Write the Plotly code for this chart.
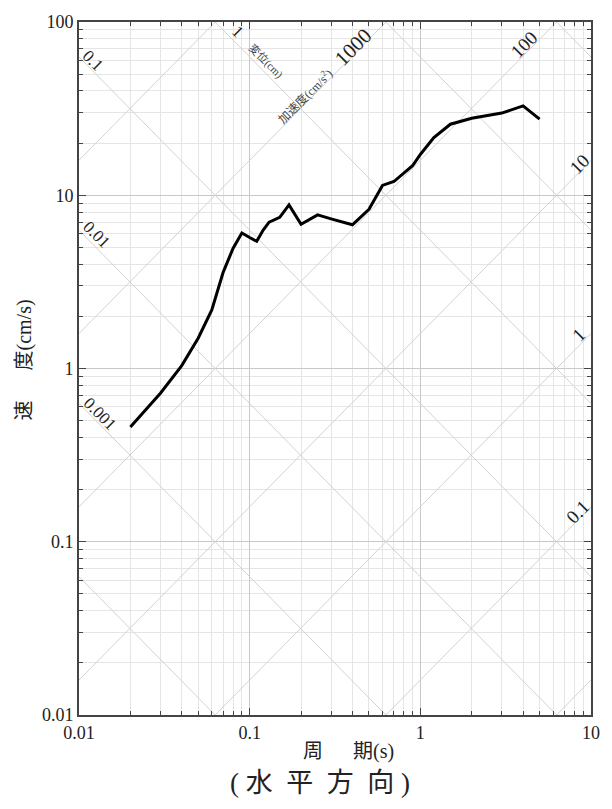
import numpy as np
import plotly.graph_objects as go

# ---- data ----
period = [0.02, 0.03, 0.04, 0.05, 0.06, 0.07, 0.08, 0.09, 0.10, 0.11, 0.12, 0.13,
          0.15, 0.17, 0.20, 0.25, 0.30, 0.40, 0.50, 0.60, 0.70, 0.80, 0.90, 1.0,
          1.2, 1.5, 2.0, 3.0, 4.0, 5.0]
velocity = [0.46, 0.72, 1.04, 1.50, 2.18, 3.60, 4.95, 6.05, 5.70, 5.42, 6.30, 7.00,
            7.45, 8.80, 6.80, 7.70, 7.30, 6.75, 8.30, 11.4, 12.0, 13.4, 14.8, 17.2,
            21.5, 25.7, 27.8, 29.8, 32.8, 27.5]

x_ticks = [0.01, 0.1, 1, 10]
x_ticktext = ["0.01", "0.1", "1", "10"]
y_ticks = [0.01, 0.1, 1, 10, 100]
y_ticktext = ["0.01", "0.1", "1", "10", "100"]

disp_levels = [1e-5, 1e-4, 1e-3, 1e-2, 1e-1, 1, 10, 100, 1000]      # cm
acc_levels = [1e-2, 1e-1, 1, 10, 100, 1000, 1e4, 1e5, 1e6]         # cm/s^2

# ---- layout geometry ----
W, H = 612, 809
L, R, T, B = 79, 12, 19, 94
PW, PH = W - L - R, H - T - B

def px(x):
    return (x - L) / PW

def py(y):
    return (H - B - y) / PH

serif = "Liberation Serif"
cjk = "Liberation Serif, Noto Sans CJK JP"
grid_minor = "#e5e5e5"
grid_major = "#c8c8c8"
diag_col = "#d2d2d2"

fig = go.Figure()

t_edges = np.array([0.01, 10.0])
for d in disp_levels:
    fig.add_trace(go.Scatter(x=t_edges, y=2 * np.pi * d / t_edges, mode="lines",
                             line=dict(color=diag_col, width=1), hoverinfo="skip",
                             showlegend=False))
for a in acc_levels:
    fig.add_trace(go.Scatter(x=t_edges, y=a * t_edges / (2 * np.pi), mode="lines",
                             line=dict(color=diag_col, width=1), hoverinfo="skip",
                             showlegend=False))

fig.add_trace(go.Scatter(x=period, y=velocity, mode="lines",
                         line=dict(color="black", width=3), showlegend=False))

def minor_vals(lo, hi):
    out = []
    for e in range(lo, hi):
        for m in range(2, 10):
            out.append(m * 10.0 ** e)
    return out

axis_common = dict(
    type="log", showline=True, linecolor="#444", linewidth=2, mirror="ticks",
    ticks="inside", ticklen=7, tickcolor="#444", tickwidth=1.2,
    showgrid=True, gridcolor=grid_major, gridwidth=1, zeroline=False,
    tickfont=dict(family=serif, size=18, color="#222"),
)

fig.update_xaxes(range=[-2, 1], tickmode="array", tickvals=x_ticks, ticktext=x_ticktext,
                 minor=dict(tickmode="array", tickvals=minor_vals(-2, 1), ticks="inside",
                            ticklen=4, tickcolor="#444", showgrid=True,
                            gridcolor=grid_minor, gridwidth=1),
                 **axis_common)
fig.update_yaxes(range=[-2, 2], tickmode="array", tickvals=y_ticks, ticktext=y_ticktext,
                 minor=dict(tickmode="array", tickvals=minor_vals(-2, 2), ticks="inside",
                            ticklen=4, tickcolor="#444", showgrid=True,
                            gridcolor=grid_minor, gridwidth=1),
                 **axis_common)

ann = []
def add(text, x, y, size, angle=0, color="#222", family=serif):
    ann.append(dict(text=text, x=px(x), y=py(y), xref="paper", yref="paper",
                    showarrow=False, textangle=angle, xanchor="center", yanchor="middle",
                    font=dict(family=family, size=size, color=color)))

# displacement labels (lines falling to the right)
add("0.1", 93, 58, 17, 45)
add("0.01", 97, 232, 17, 45)
add("0.001", 100, 412, 17, 45)
add("1", 240, 29, 17, 45)
add("変位(cm)", 269, 59, 11, 45, "#444", cjk)
# acceleration labels (lines rising to the right)
add("加速度(cm/s<sup>2</sup>)", 309, 94, 12, -45, "#444", cjk)
add("1000", 358, 44, 21, -45)
add("100", 532, 42, 19, -45)
add("10", 588, 162, 19, -45)
add("1", 588, 333, 19, -45)
add("0.1", 587, 511, 19, -45)

# axis titles
add("速　  度(cm/s)", 24, 358, 20, -90, "#222", cjk)
add("周　  期(s)", 353, 752, 20, 0, "#222", cjk)
add("( 水  平  方  向 )", 324, 783, 27, 0, "#222", cjk)

fig.update_layout(width=W, height=H, autosize=False,
                  margin=dict(l=L, r=R, t=T, b=B, pad=0),
                  paper_bgcolor="white", plot_bgcolor="white",
                  font=dict(family=serif),
                  annotations=ann, showlegend=False)

fig.write_html("out.html")
